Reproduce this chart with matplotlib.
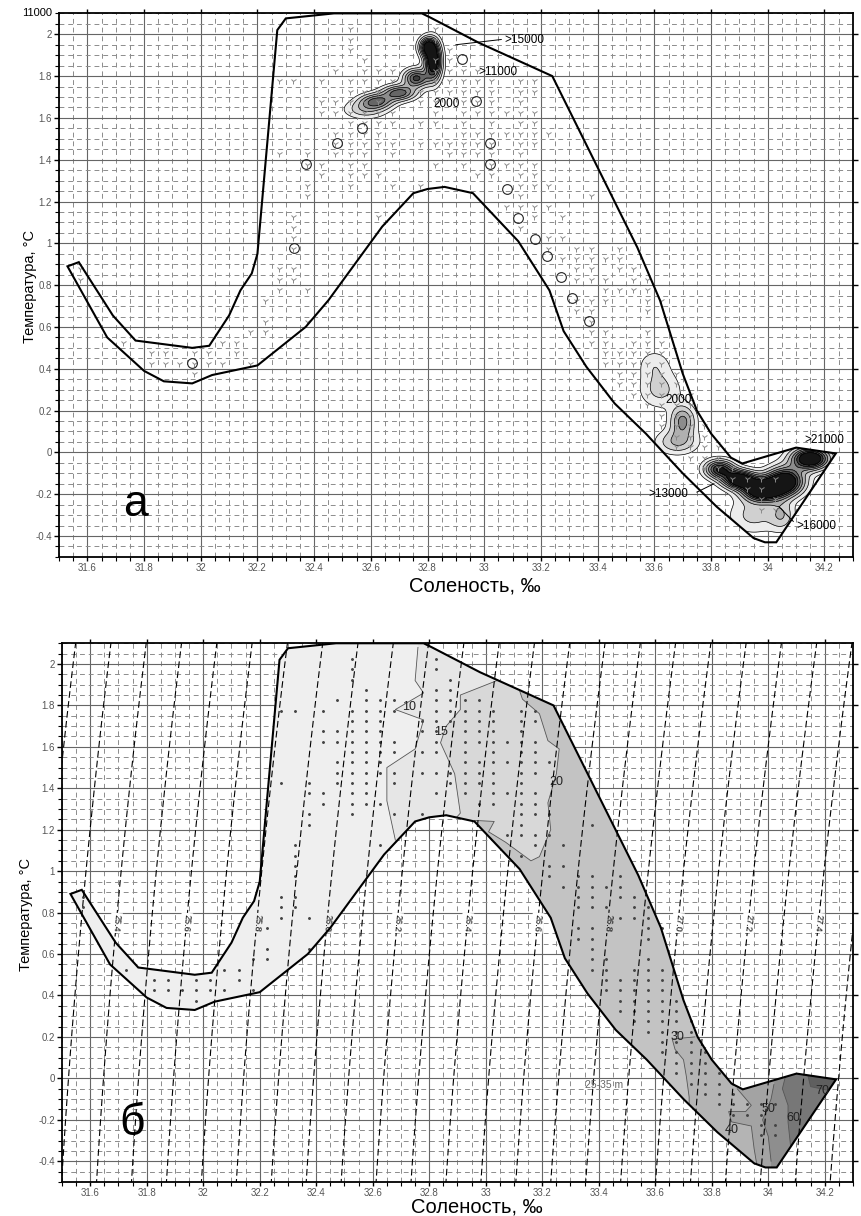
import numpy as np
import matplotlib
matplotlib.use('Agg')
import matplotlib.pyplot as plt
from matplotlib.patches import Polygon
from matplotlib.path import Path
from matplotlib.ticker import MultipleLocator, FuncFormatter

plt.rcParams['font.family'] = ['Liberation Sans', 'DejaVu Sans']

# outline of the T-S region (salinity, temperature)
outline_s = [31.53, 31.57, 31.69, 31.77, 31.97, 32.03, 32.10, 32.14, 32.18, 32.20, 32.27, 32.30,
             32.47, 32.78, 32.81, 32.98, 33.24, 33.54, 33.62, 33.70, 33.75, 33.80, 33.87, 33.91,
             34.10, 34.24, 34.03, 33.99, 33.95, 33.82, 33.70, 33.57, 33.46, 33.36, 33.28, 33.23,
             33.12, 32.96, 32.86, 32.80, 32.75, 32.64, 32.45, 32.37, 32.20, 32.04, 31.97, 31.87,
             31.80, 31.67]
outline_t = [0.89, 0.91, 0.655, 0.535, 0.50, 0.51, 0.655, 0.775, 0.856, 0.95, 2.02, 2.076,
             2.10, 2.10, 2.08, 1.96, 1.80, 0.98, 0.727, 0.377, 0.20, 0.09, -0.025, -0.053,
             0.023, -0.005, -0.43, -0.43, -0.41, -0.26, -0.10, 0.09, 0.234, 0.41, 0.58, 0.775,
             1.01, 1.24, 1.27, 1.26, 1.24, 1.08, 0.727, 0.60, 0.416, 0.37, 0.33, 0.34,
             0.39, 0.55]

# stations (bin centres): temperature rows and salinities in each row
row_t = [2.025, 1.975, 1.925, 1.875, 1.825, 1.775, 1.725, 1.675, 1.625, 1.575, 1.525, 1.475,
         1.425, 1.375, 1.325, 1.275, 1.225, 1.175, 1.125, 1.075, 1.025, 0.975, 0.925, 0.875,
         0.825, 0.775, 0.725, 0.675, 0.625, 0.575, 0.525, 0.475, 0.425, 0.375, 0.325, 0.275,
         0.225, 0.175, 0.125, 0.075, 0.025, -0.025, -0.075, -0.125, -0.175, -0.225, -0.275]
row_s = [
    [32.525, 32.825],
    [32.525, 32.825],
    [32.525, 32.875],
    [32.575, 32.825, 32.875],
    [32.475, 32.575, 32.625, 32.675, 32.825, 32.875, 32.925, 32.975],
    [32.275, 32.325, 32.425, 32.525, 32.575, 32.625, 32.675, 32.825, 32.875, 32.925, 32.975, 33.025, 33.125, 33.175],
    [32.525, 32.575, 32.625, 32.775, 32.825, 32.875, 32.925, 32.975, 33.025, 33.125, 33.175],
    [32.425, 32.475, 32.525, 32.575, 32.625, 32.775, 32.825, 32.925, 32.975, 33.025, 33.125],
    [32.425, 32.475, 32.525, 32.575, 32.625, 32.675, 32.825, 32.925, 32.975, 33.025, 33.075, 33.125, 33.175],
    [32.525, 32.575, 32.625, 32.675, 32.775, 32.825, 32.925, 33.025, 33.125, 33.175],
    [32.475, 32.525, 32.575, 32.625, 32.925, 32.975, 33.025, 33.075, 33.125, 33.175, 33.225],
    [32.475, 32.525, 32.575, 32.625, 32.675, 32.775, 32.825, 32.875, 32.925, 32.975, 33.025, 33.125, 33.175],
    [32.275, 32.375, 32.475, 32.525, 32.575, 32.675, 32.875, 32.925, 32.975, 33.025, 33.125],
    [32.375, 32.425, 32.525, 32.575, 32.825, 32.925, 33.025, 33.075, 33.125, 33.175],
    [32.425, 32.525, 32.575, 32.625, 32.975, 33.025, 33.125, 33.175],
    [32.375, 32.525, 32.675, 32.775, 33.125, 33.175, 33.225],
    [32.375, 33.125, 33.375],
    [33.075, 33.125, 33.175, 33.225],
    [32.325, 32.625, 33.175, 33.275],
    [32.325, 33.125],
    [32.325, 33.225, 33.275],
    [32.325, 33.225, 33.325, 33.375, 33.475],
    [33.275, 33.325, 33.375, 33.425, 33.475],
    [31.575, 32.275, 32.325, 33.325, 33.375, 33.475, 33.525],
    [31.575, 32.275, 32.325, 33.325, 33.375, 33.425, 33.525, 33.575],
    [32.275, 32.375, 33.425, 33.475, 33.525, 33.575],
    [32.225, 33.325, 33.375, 33.425, 33.575, 33.625],
    [33.325, 33.375, 33.575],
    [32.225, 32.375, 33.375],
    [32.175, 32.225, 33.375, 33.425, 33.575],
    [31.725, 32.075, 32.125, 33.375, 33.425, 33.525, 33.575, 33.625],
    [31.825, 31.875, 31.975, 32.025, 32.125, 33.425, 33.475, 33.525, 33.575, 33.625],
    [31.825, 31.875, 31.925, 31.975, 32.025, 32.075, 32.175, 33.425, 33.475, 33.525, 33.575, 33.625],
    [31.975, 33.475, 33.525, 33.575, 33.625, 33.675],
    [33.475, 33.525, 33.575, 33.625, 33.675],
    [33.525, 33.575, 33.625, 33.675, 33.725],
    [33.575, 33.625, 33.675, 33.725],
    [33.625, 33.675, 33.725],
    [33.625, 33.675, 33.725, 33.775],
    [33.675, 33.725, 33.775],
    [33.675, 33.725, 33.775, 33.825],
    [33.725, 33.775, 33.825],
    [33.775, 33.825, 33.875],
    [33.825, 33.875, 33.925, 33.975, 34.025],
    [33.875, 33.925, 33.975],
    [33.975, 34.025],
    [33.975, 34.025],
]

# panel a: station-density clusters (centre S, centre T, spread S, spread T, strength)
blob_s = [32.58, 32.62, 32.70, 32.76, 32.82, 32.80, 33.62, 33.70, 33.68, 33.60, 33.83, 33.90, 33.98, 34.06, 34.15, 33.95, 34.05]
blob_t = [1.64, 1.68, 1.72, 1.79, 1.87, 1.94, 0.30, 0.15, 0.05, 0.42, -0.08, -0.13, -0.18, -0.14, -0.03, -0.30, -0.30]
blob_ws = [0.05, 0.04, 0.04, 0.03, 0.02, 0.02, 0.05, 0.03, 0.05, 0.04, 0.035, 0.04, 0.045, 0.045, 0.045, 0.06, 0.03]
blob_wt = [0.03, 0.025, 0.025, 0.03, 0.06, 0.03, 0.06, 0.05, 0.04, 0.05, 0.03, 0.03, 0.035, 0.045, 0.035, 0.06, 0.05]
blob_amp = [0.35, 0.7, 0.8, 0.9, 1.3, 1.0, 0.3, 0.6, 0.4, 0.2, 1.0, 1.3, 1.5, 1.4, 1.4, 0.3, 0.35]
density_levels = [0.12, 0.25, 0.4, 0.55, 0.7, 0.85, 1.0, 9.0]
density_colors = ['#ececec', '#d0d0d0', '#b0b0b0', '#8c8c8c', '#666666', '#3c3c3c', '#151515']

# small isolated rings in panel a
ring_s = [32.37, 32.33, 32.48, 32.57, 33.02, 33.02, 33.08, 33.12, 33.18, 33.22, 33.27, 33.31, 32.92, 32.97, 33.37, 31.97]
ring_t = [1.38, 0.976, 1.48, 1.55, 1.48, 1.38, 1.26, 1.12, 1.02, 0.94, 0.84, 0.74, 1.88, 1.68, 0.63, 0.43]

# panel a: count labels
count_text = ['>15000', '>11000', '2000', '2000', '>21000', '>13000', '>16000']
count_s = [33.07, 32.98, 32.82, 33.64, 34.13, 33.58, 34.10]
count_t = [1.975, 1.82, 1.665, 0.25, 0.06, -0.20, -0.35]

# panel b: depth zones (m), boundary lines and fills
zone_depth = [10, 15, 20, 30, 40, 50, 60, 70]
zone_colors = ['#e6e6e6', '#d8d8d8', '#c3c3c3', '#b4b4b4', '#a3a3a3', '#8e8e8e', '#777777', '#5f5f5f']
zone_line_s = [
    [32.76, 32.75, 32.78, 32.68, 32.78, 32.75, 32.65, 32.65, 32.68],
    [33.04, 32.91, 32.91, 32.86, 32.84, 32.89, 32.91, 32.89],
    [33.12, 33.13, 33.19, 33.22, 33.26, 33.25, 33.22, 33.23, 33.19, 33.16, 33.07, 33.01, 33.03, 32.96],
    [33.74, 33.66, 33.67, 33.70, 33.71, 33.72, 33.72],
    [33.89, 33.94, 33.92, 33.86, 33.87, 33.94, 33.95, 33.96],
    [34.02, 34.01, 33.98, 34.00, 34.01],
    [34.06, 34.05, 34.07, 34.07, 34.08],
    [34.14, 34.15, 34.22, 34.30],
]
zone_line_t = [
    [2.08, 1.92, 1.86, 1.78, 1.73, 1.59, 1.50, 1.34, 1.15],
    [1.92, 1.85, 1.78, 1.70, 1.62, 1.47, 1.28, 1.25],
    [1.87, 1.83, 1.76, 1.63, 1.59, 1.47, 1.33, 1.20, 1.07, 1.05, 1.14, 1.19, 1.24, 1.245],
    [0.20, 0.19, 0.14, 0.09, 0.01, -0.09, -0.13],
    [-0.05, -0.13, -0.16, -0.16, -0.21, -0.23, -0.34, -0.42],
    [-0.03, -0.10, -0.20, -0.28, -0.40],
    [0.005, -0.05, -0.13, -0.21, -0.34],
    [0.015, -0.04, -0.06, -0.12],
]
zone_label_s = [32.73, 32.84, 33.25, 33.68, 33.87, 34.00, 34.09, 34.19]
zone_label_t = [1.79, 1.67, 1.43, 0.20, -0.25, -0.15, -0.19, -0.06]

# isopycnal labels (sigma-t), placed at T = 0.75
sig_label_levels = [25.4, 25.6, 25.8, 26.0, 26.2, 26.4, 26.6, 26.8, 27.0, 27.2, 27.4]
sig_label_t = 0.75


def sigma_t(s, t):
    # UNESCO 1980 equation of state at sea surface
    rw = (999.842594 + 6.793952e-2 * t - 9.095290e-3 * t**2 + 1.001685e-4 * t**3
          - 1.120083e-6 * t**4 + 6.536332e-9 * t**5)
    a = 0.824493 - 4.0899e-3 * t + 7.6438e-5 * t**2 - 8.2467e-7 * t**3 + 5.3875e-9 * t**4
    b = -5.72466e-3 + 1.0227e-4 * t - 1.6546e-6 * t**2
    return rw + a * s + b * s**1.5 + 4.8314e-4 * s**2 - 1000.0


def setup(ax, xlab_y, ylab_x):
    ax.set_xlim(31.5, 34.3)
    ax.set_ylim(-0.5, 2.1)
    ax.xaxis.set_major_locator(MultipleLocator(0.2))
    ax.xaxis.set_minor_locator(MultipleLocator(0.05))
    ax.yaxis.set_major_locator(MultipleLocator(0.2))
    ax.yaxis.set_minor_locator(MultipleLocator(0.05))
    fmt = FuncFormatter(lambda v, p: '%g' % round(v, 2))
    ax.xaxis.set_major_formatter(fmt)
    ax.yaxis.set_major_formatter(fmt)
    ax.set_axisbelow(True)
    ax.grid(which='major', color='#666666', lw=0.8)
    ax.grid(which='minor', color='#8c8c8c', lw=0.7, ls=(0, (5, 4)))
    ax.tick_params(which='major', direction='out', top=True, right=True, length=3.5,
                   width=1, labelsize=7, labelcolor='#555555', pad=1.5)
    ax.tick_params(which='major', axis='x', top=True, length=3)
    ax.tick_params(which='minor', direction='out', length=3, width=0.8)
    for sp in ax.spines.values():
        sp.set_linewidth(1.3)
    ax.set_xlabel('Соленость, ‰', fontsize=14.5)
    ax.xaxis.set_label_coords(0.524, xlab_y)
    ax.set_ylabel('Температура, °C', fontsize=10.5)
    ax.yaxis.set_label_coords(ylab_x, 0.497)


fig = plt.figure(figsize=(8.61, 12.16), dpi=100)
ax1 = fig.add_axes([0.0685, 0.542, 0.922, 0.447])
ax2 = fig.add_axes([0.072, 0.028, 0.9187, 0.443])
setup(ax1, -0.036, -0.028)
setup(ax2, -0.029, -0.037)

outline = np.column_stack([outline_s, outline_t])
outline_path = Path(outline)

# ---- panel a
clip1 = Polygon(outline, closed=True, fc='none', ec='none', transform=ax1.transData)
ax1.add_patch(clip1)
gs, gt = np.meshgrid(np.linspace(31.5, 34.3, 500), np.linspace(-0.5, 2.1, 400))
field = np.zeros_like(gs)
for s0, t0, ws, wt, amp in zip(blob_s, blob_t, blob_ws, blob_wt, blob_amp):
    field += amp * np.exp(-((gs - s0)**2 / (2 * ws**2) + (gt - t0)**2 / (2 * wt**2)))
cf = ax1.contourf(gs, gt, field, levels=density_levels, colors=density_colors, zorder=2)
cl = ax1.contour(gs, gt, field, levels=density_levels[:-1], colors='k', linewidths=0.5, zorder=3)
cf.set_clip_path(clip1)
cl.set_clip_path(clip1)

ax1.add_patch(Polygon(outline, closed=True, fc='none', ec='k', lw=1.5, zorder=5))

st_s = [s for r in row_s for s in r]
st_t = [t for t, r in zip(row_t, row_s) for s in r]
ax1.plot(st_s, st_t, ls='none', marker='1', ms=4.5, mew=0.7, color='#8a8a8a', zorder=4)
ax1.plot(ring_s, ring_t, ls='none', marker='o', ms=7, mfc='none', mec='#222222', mew=0.8, zorder=4)

for txt, s0, t0 in zip(count_text, count_s, count_t):
    ax1.text(s0, t0, txt, fontsize=8.5, ha='left', va='center', zorder=6)
ax1.plot([32.90, 33.06], [1.95, 1.975], color='k', lw=0.7, zorder=6)
ax1.plot([33.75, 33.81], [-0.19, -0.15], color='k', lw=0.7, zorder=6)
ax1.plot([34.04, 34.09], [-0.26, -0.33], color='k', lw=0.7, zorder=6)

ax1.text(31.77, -0.25, 'а', fontsize=32, ha='center', va='center')
ax1.text(-0.009, 1.0, '11000', transform=ax1.transAxes, ha='right', va='center', fontsize=8)

# ---- panel b
clip2 = Polygon(outline, closed=True, fc='#efefef', ec='none', zorder=2, transform=ax2.transData)
ax2.add_patch(clip2)
zone_paths = []
for k, (zs, zt) in enumerate(zip(zone_line_s, zone_line_t)):
    ps = [zs[0]] + list(zs) + [zs[-1], 34.7, 34.7]
    pt = [2.4] + list(zt) + [-1.0, -1.0, 2.4]
    if k >= 3:
        ps[0] = zs[0] + 0.04
        pt[0] = 0.35
        pt[-1] = 0.35
    verts = np.column_stack([ps, pt])
    zone_paths.append(Path(verts))
    zp = Polygon(verts, closed=True, fc=zone_colors[k], ec='none', zorder=2.1 + k * 0.01)
    ax2.add_patch(zp)
    zp.set_clip_path(clip2)
    ln, = ax2.plot(zs, zt, color='#555555', lw=0.6, zorder=2.5)
    ln.set_clip_path(clip2)
for d, s0, t0 in zip(zone_depth, zone_label_s, zone_label_t):
    ax2.text(s0, t0, str(d), fontsize=9, ha='center', va='center', color='#222222', zorder=6)
ax2.text(33.42, -0.03, '25-35 m', fontsize=7.5, ha='center', va='center', color='#666666', zorder=6)

ax2.plot(st_s, st_t, ls='none', marker='.', ms=2.2, color='#444444', zorder=3)

ax2.add_patch(Polygon(outline, closed=True, fc='none', ec='k', lw=1.5, zorder=5))

ss, tt = np.meshgrid(np.linspace(31.3, 34.5, 400), np.linspace(-0.7, 2.3, 300))
sig_levels = np.round(np.arange(25.2, 27.65, 0.1), 1)
ax2.contour(ss, tt, sigma_t(ss, tt), levels=sig_levels, colors='k',
            linewidths=0.8, linestyles=[(0, (6, 3))], zorder=4)

# isopycnal labels: find salinity of each level at the label temperature
s_line = np.linspace(31.3, 34.5, 2000)
fig.canvas.draw()
for lv in sig_label_levels:
    s_at = np.interp(lv, sigma_t(s_line, sig_label_t), s_line)
    s_lo = np.interp(lv, sigma_t(s_line, sig_label_t - 0.1), s_line)
    s_hi = np.interp(lv, sigma_t(s_line, sig_label_t + 0.1), s_line)
    p0 = ax2.transData.transform((s_lo, sig_label_t - 0.1))
    p1 = ax2.transData.transform((s_hi, sig_label_t + 0.1))
    ang = np.degrees(np.arctan2(p1[1] - p0[1], p1[0] - p0[0]))
    bg = 'white'
    if outline_path.contains_point((s_at, sig_label_t)):
        bg = '#efefef'
        for k, zpath in enumerate(zone_paths):
            if zpath.contains_point((s_at, sig_label_t)):
                bg = zone_colors[k]
    ax2.text(s_at, sig_label_t, '%.1f' % lv, rotation=ang - 180, fontsize=6.5,
             ha='center', va='center', rotation_mode='anchor', zorder=4.5,
             bbox=dict(boxstyle='square,pad=0.15', fc=bg, ec='none'))

ax2.text(31.75, -0.22, 'б', fontsize=32, ha='center', va='center')

fig.savefig('out.png', dpi=100)
